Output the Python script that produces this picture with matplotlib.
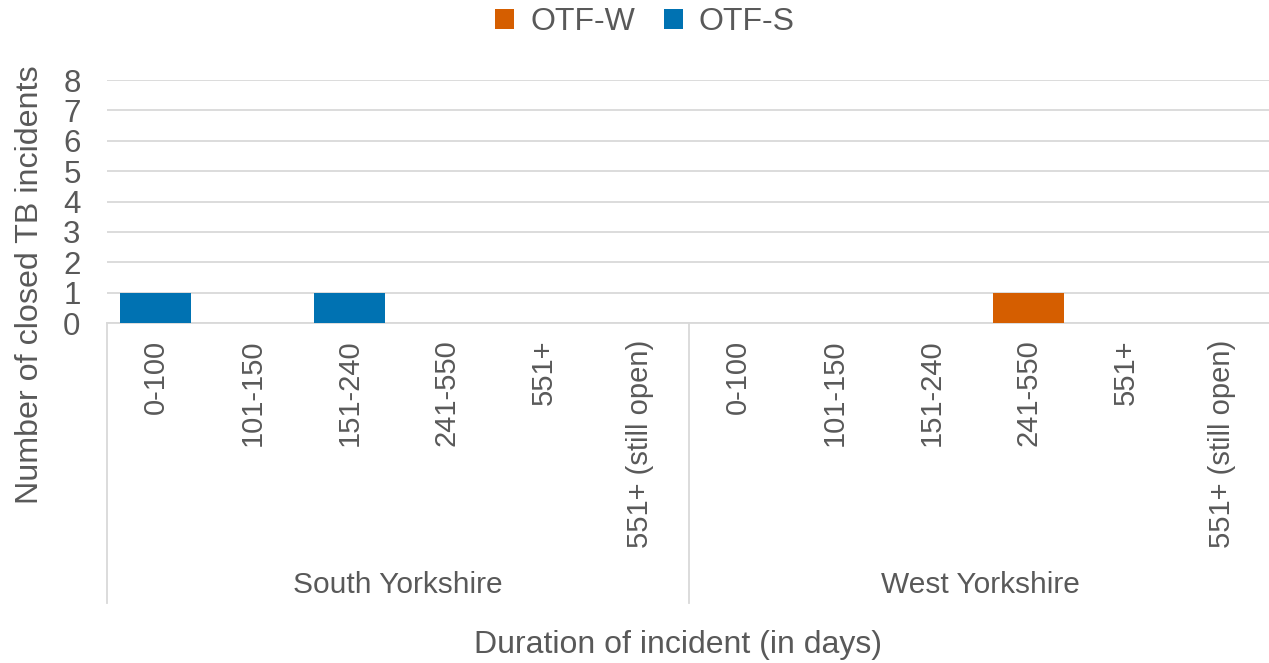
import numpy as np
import matplotlib.pyplot as plt
from matplotlib.transforms import blended_transform_factory

plt.rcParams['font.family'] = ['Liberation Sans', 'DejaVu Sans']

# data
regions = ["South Yorkshire", "West Yorkshire"]
durations = ["0-100", "101-150", "151-240", "241-550", "551+", "551+ (still open)"]
otf_w = [0, 0, 0, 0, 0, 0, 0, 0, 0, 1, 0, 0]
otf_s = [1, 0, 1, 0, 0, 0, 0, 0, 0, 0, 0, 0]

txt = "#595959"
grid = "#D9D9D9"

fig = plt.figure(figsize=(12.69, 6.63), dpi=100)
W, H = 1269, 663
ax = fig.add_axes([107 / W, 1 - 323 / H, (1271 - 107) / W, (323 - 80) / H])

labels = durations * len(regions)
x = np.arange(len(labels))
ax.bar(x, otf_w, width=0.74, color="#D55E00", label="OTF-W", zorder=3)
ax.bar(x, otf_s, width=0.74, bottom=otf_w, color="#0072B2", label="OTF-S", zorder=3)

ax.set_xlim(-0.5, len(labels) - 0.5)
ax.set_ylim(0, 8)
ax.set_yticks(range(0, 9))
ax.grid(axis="y", color=grid, lw=1.3, zorder=0)
for s in ["top", "right", "left"]:
    ax.spines[s].set_visible(False)
ax.spines["bottom"].set_color(grid)
ax.spines["bottom"].set_linewidth(1.3)

ax.set_xticks(x)
ax.set_xticklabels(labels, rotation=90, va="top", ha="center")
ax.tick_params(axis="x", length=0, pad=12, labelsize=21, labelcolor=txt)
ax.tick_params(axis="y", length=0, pad=19, labelsize=22.5, labelcolor=txt)

# region separators and labels (right-most one falls off the picture)
tr = blended_transform_factory(ax.transData, ax.transAxes)
ybot = (323 - 603) / (323 - 80)
for i in range(len(regions)):
    ax.plot([i * len(durations) - 0.5] * 2, [0, ybot], color=grid, lw=1.3,
            transform=tr, clip_on=False)
ylab = (323 - 585) / (323 - 80)
for i, r in enumerate(regions):
    ax.text(i * len(durations) + (len(durations) - 1) / 2, ylab, r, transform=tr,
            ha="center", va="center", fontsize=21.5, color=txt)

fig.text(678 / W, 1 - 645 / H, "Duration of incident (in days)", ha="center",
         va="center", fontsize=23, color=txt)
fig.text(30 / W, 1 - 285 / H, "Number of closed TB incidents", ha="center",
         va="center", rotation=90, fontsize=23.2, color=txt)

fig.legend(loc="center", bbox_to_anchor=(645 / W, 1 - 22 / H), ncol=2, frameon=False,
           fontsize=23, labelcolor=txt, handlelength=0.6, handleheight=0.6,
           handletextpad=0.5, columnspacing=0.9)

fig.savefig("out.png", dpi=100)
